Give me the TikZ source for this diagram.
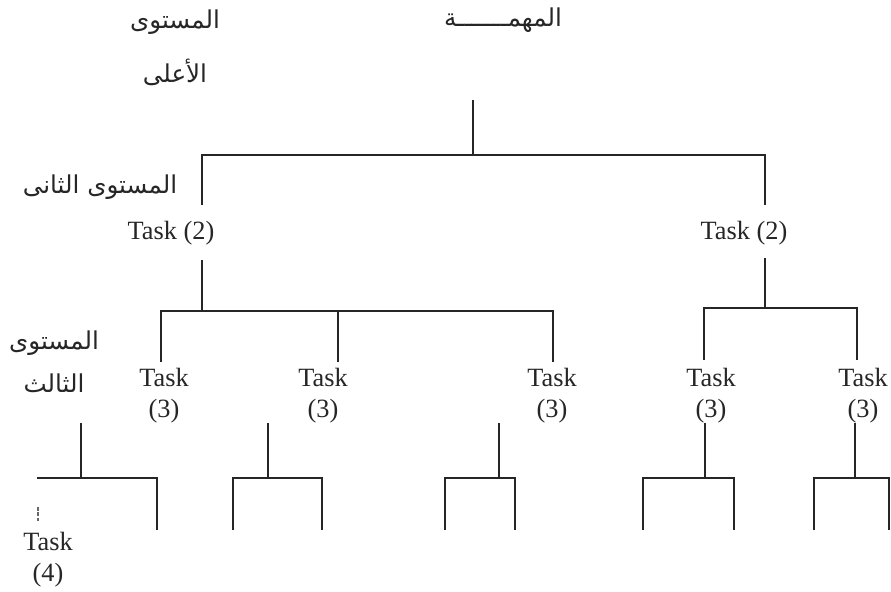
\documentclass[tikz,border=0pt]{standalone}
\usepackage{fontspec}
\setmainfont{Liberation Serif}
\newfontfamily\arabicfont[Script=Arabic]{DejaVu Sans}
\TeXXeTstate=1
\begin{document}
\begin{tikzpicture}[x=0.02cm,y=-0.02cm,
  ln/.style={line width=0.8pt, draw=black!85},
  faint/.style={line width=0.6pt, draw=black!60, dash pattern=on 2pt off 1pt},
  task/.style={font=\fontsize{15}{17.5}\selectfont, inner sep=0pt, align=center, text=black!85},
  ar/.style={font=\arabicfont\fontsize{14}{16}\selectfont, inner sep=0pt, text=black!85}]
\useasboundingbox (0,0) rectangle (891,591);
% Arabic labels
\node[ar] (lvtop) at (175,22) {\beginR المستوى\endR};
\node[ar] (lvtopb) at (175,72) {\beginR الأعلى\endR};
\node[ar] (task1) at (503,20) {\beginR المهمـــــــة\endR};
\node[ar] (lv2) at (100,187) {\beginR المستوى الثانى\endR};
\node[ar] (lv3) at (54,343) {\beginR المستوى\endR};
\node[ar] (lv3b) at (54,383) {\beginR الثالث\endR};
% Task (2)
\node[task] (t2a) at (171,233) {Task (2)};
\node[task] (t2b) at (744,233) {Task (2)};
% Task (3)
\node[task] (t3a) at (164,396) {Task\\(3)};
\node[task] (t3b) at (323,396) {Task\\(3)};
\node[task] (t3c) at (552,396) {Task\\(3)};
\node[task] (t3d) at (711,396) {Task\\(3)};
\node[task] (t3e) at (863,396) {Task\\(3)};
% Task (4)
\node[task] (t4) at (48,560) {Task\\(4)};
% level 1 connectors
\coordinate (r0) at (473,100); \coordinate (rj) at (473,155);
\coordinate (hl) at (202,155); \coordinate (hr) at (765,155);
\coordinate (l1) at (202,205); \coordinate (r1) at (765,205);
\draw[ln] (r0) -- (rj);
\draw[ln] (l1) -- (hl) -- (hr) -- (r1);
% level 2 left
\coordinate (as) at (202,260); \coordinate (aj) at (202,311);
\coordinate (ah1) at (161,311); \coordinate (ah2) at (338,311); \coordinate (ah3) at (553,311);
\coordinate (al1) at (161,362); \coordinate (al2) at (338,362); \coordinate (al3) at (553,362);
\draw[ln] (as) -- (aj);
\draw[ln] (al1) -- (ah1) -- (ah3) -- (al3);
\draw[ln] (ah2) -- (al2);
% level 2 right
\coordinate (bs) at (765,258); \coordinate (bj) at (765,308);
\coordinate (bh1) at (704,308); \coordinate (bh2) at (857,308);
\coordinate (bl1) at (704,360); \coordinate (bl2) at (857,360);
\draw[ln] (bs) -- (bj);
\draw[ln] (bl1) -- (bh1) -- (bh2) -- (bl2);
% level 3 brackets
\foreach \n/\s/\a/\b in {1/81/37/157, 2/268/233/322, 3/499/445/515, 4/705/643/734, 5/855/814/889}{
  \coordinate (s\n t) at (\s,423); \coordinate (s\n j) at (\s,478);
  \coordinate (s\n a) at (\a,478); \coordinate (s\n b) at (\b,478);
  \coordinate (s\n A) at (\a,530); \coordinate (s\n B) at (\b,530);
}
\draw[ln] (s1t) -- (s1j);
\draw[ln] (s1a) -- (s1b) -- (s1B);
\coordinate (d1) at (38,507); \coordinate (d2) at (38,521);
\draw[faint] (d1) -- (d2);
\foreach \n in {2,3,4,5}{
  \draw[ln] (s\n t) -- (s\n j);
  \draw[ln] (s\n A) -- (s\n a) -- (s\n b) -- (s\n B);
}
\end{tikzpicture}
\end{document}
